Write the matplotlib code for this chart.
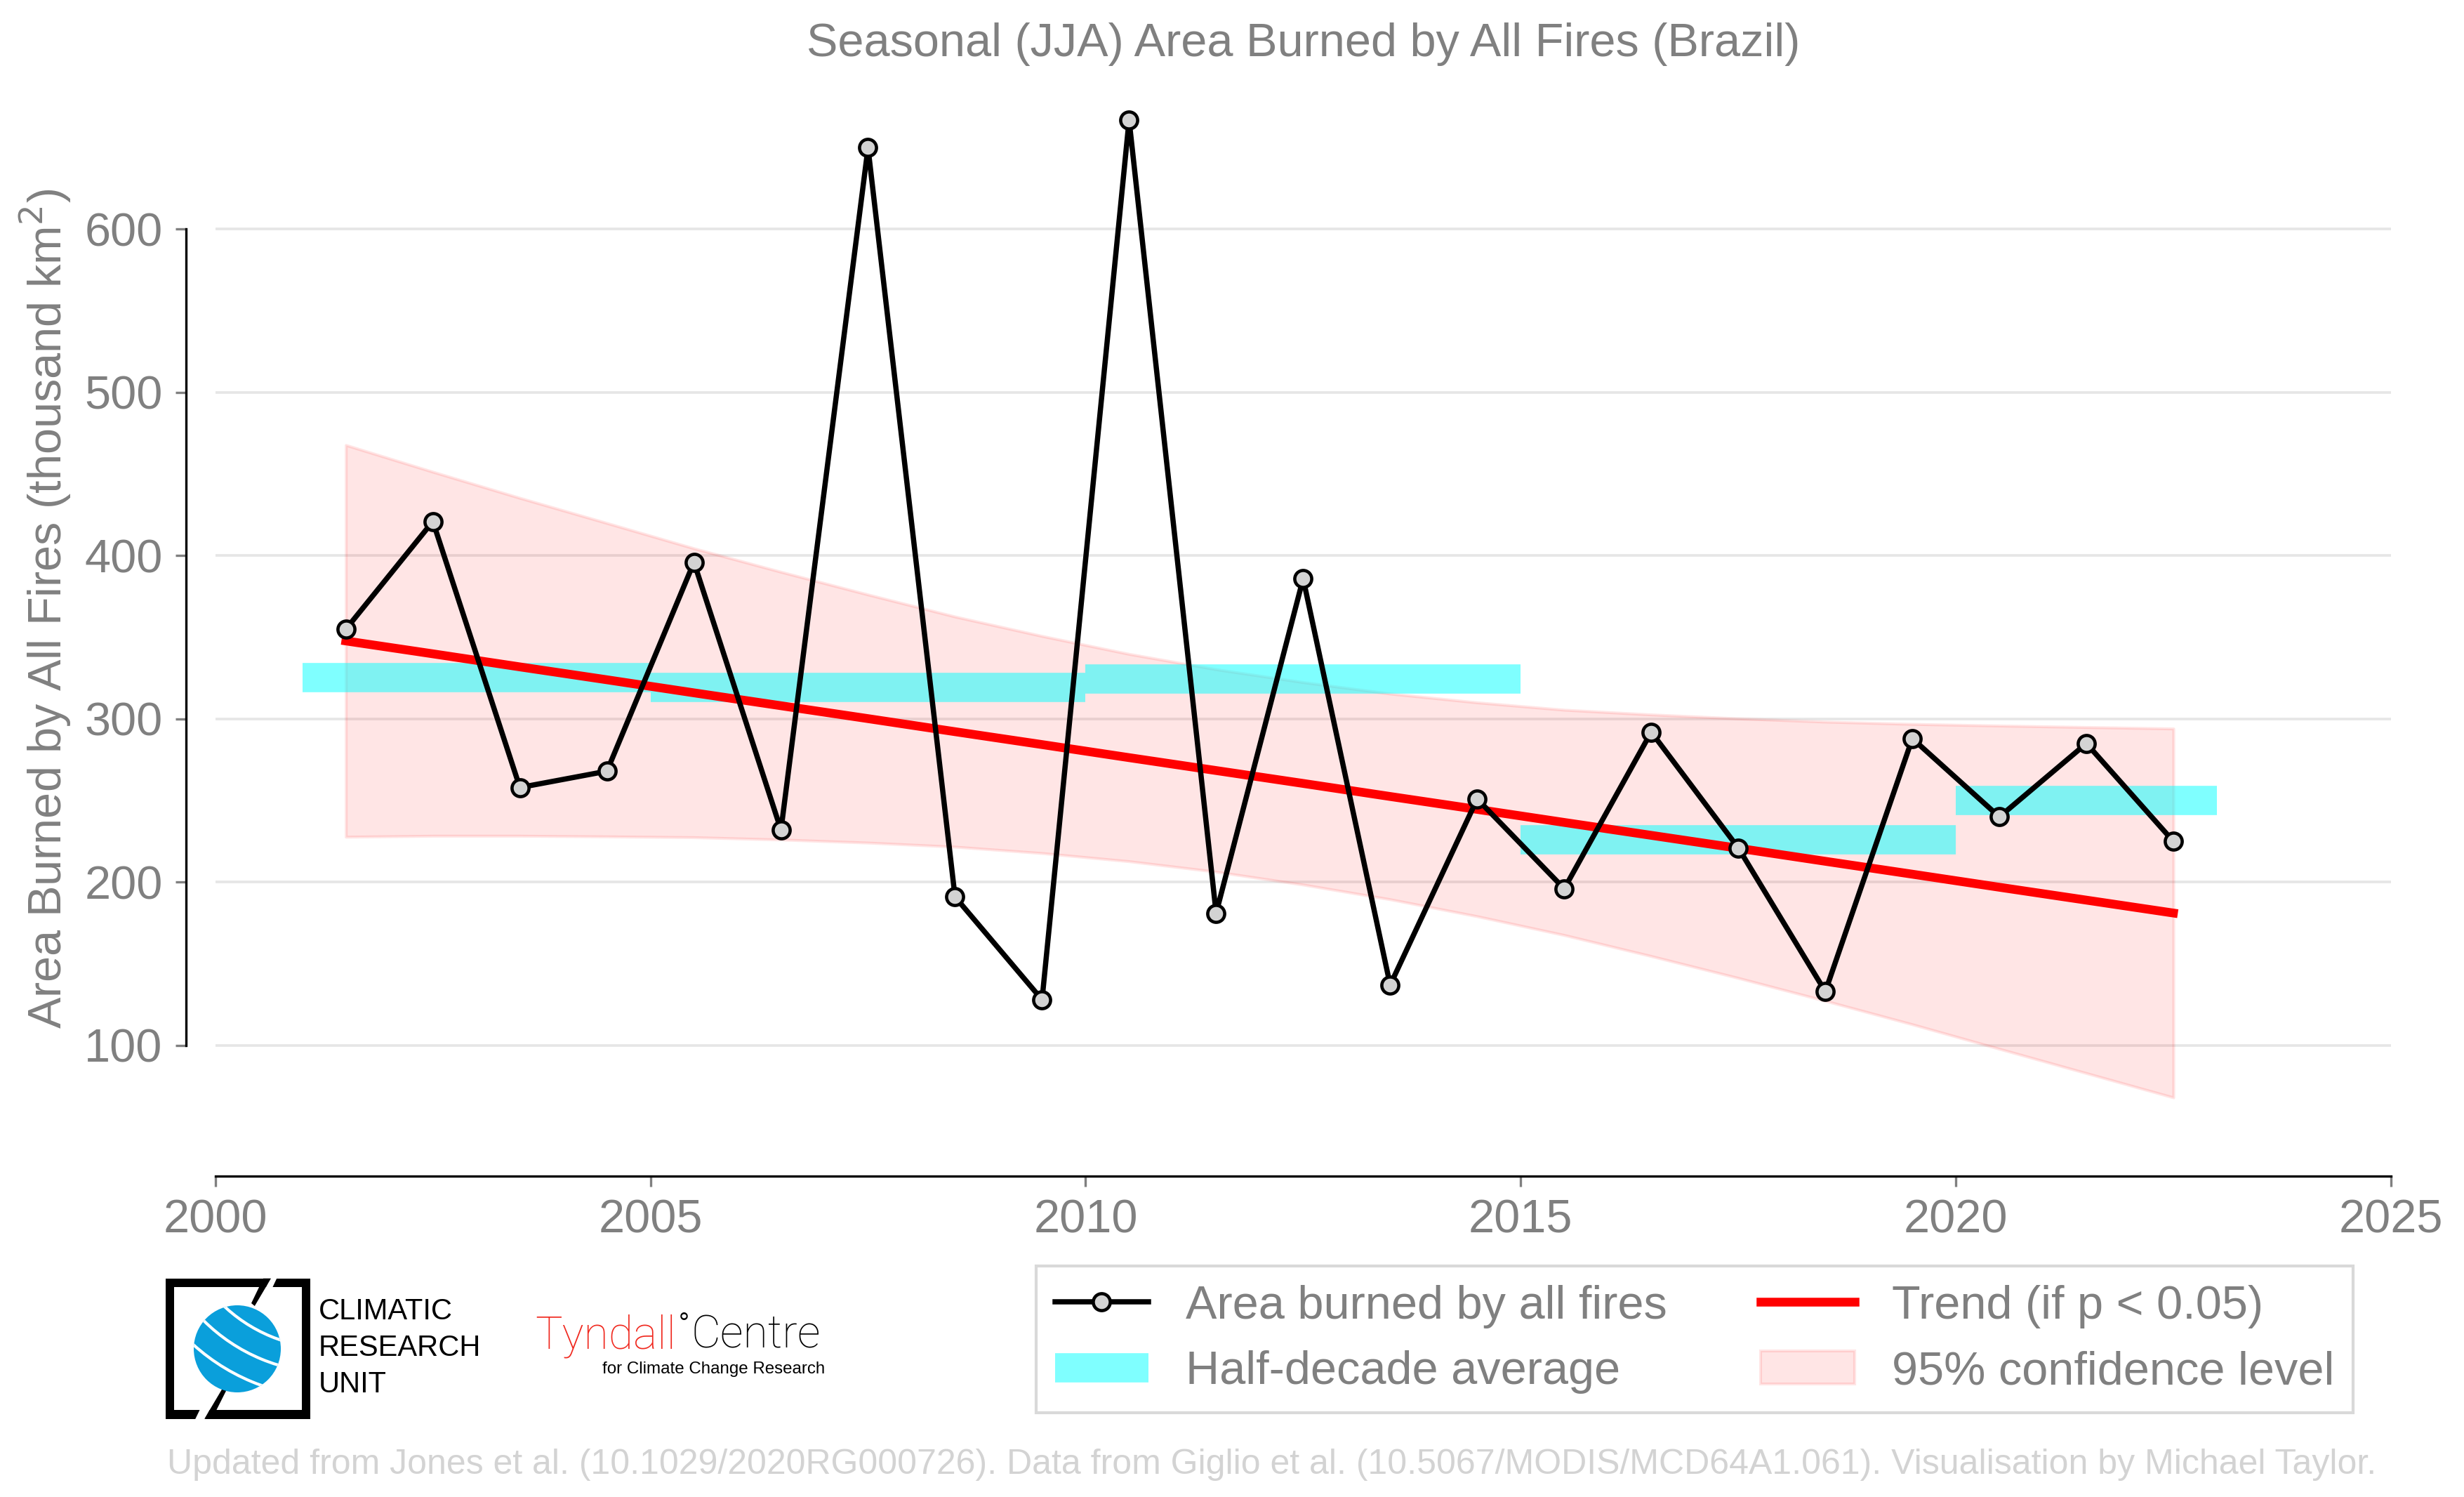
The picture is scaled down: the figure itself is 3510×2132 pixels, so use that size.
import numpy as np
import matplotlib.pyplot as plt
from matplotlib.lines import Line2D
from matplotlib.patches import Patch, Polygon, Circle, Rectangle, Arc

plt.rcParams['font.family'] = ['Liberation Sans', 'DejaVu Sans']

# %% Data
years = np.arange(2001, 2023)
area = [355, 421, 258, 268, 396, 232, 650, 191, 128, 667, 181,
        386, 137, 251, 196, 292, 221, 133, 288, 240, 285, 225]

# half-decade averages
half_start = [2001, 2005, 2010, 2015, 2020]
half_end = [2005, 2010, 2015, 2020, 2023]
half_avg = [325.5, 319.4, 324.4, 226.0, 250.0]

# trend line and 95% confidence band
trend = [347.8, 339.9, 331.9, 324.0, 316.0, 308.1, 300.2, 292.2, 284.3, 276.3, 268.4,
         260.5, 252.5, 244.6, 236.6, 228.7, 220.8, 212.8, 204.9, 196.9, 189.0, 181.1]
ci_upper = [467.8, 451.4, 435.4, 420.0, 404.5, 390.1, 376.2, 362.7, 350.8, 339.8, 330.4,
            322.5, 315.5, 310.1, 305.6, 302.7, 300.3, 298.3, 296.9, 295.9, 295.0, 294.1]
ci_lower = [227.8, 228.4, 228.4, 228.0, 227.5, 226.1, 224.2, 221.7, 217.8, 212.8, 206.4,
            198.5, 189.5, 179.1, 167.6, 154.7, 141.3, 127.3, 112.9, 97.9, 83.0, 68.1]

x = years + 0.5

# %% Figure
W, H = 3510, 2132
fig = plt.figure(figsize=(W / 300, H / 300), dpi=300)
ax = fig.add_axes([306.7 / W, 1 - 1633 / H, (3406 - 306.7) / W, (1633 - 101) / H])

ax.fill_between(x, ci_lower, ci_upper, color='red', alpha=0.1, zorder=1)
ax.hlines(half_avg, half_start, half_end, colors='cyan', alpha=0.5, lw=10,
          capstyle='butt', zorder=2)
ax.plot(x, trend, color='red', lw=3, zorder=3)
ax.plot(x, area, color='black', lw=1.8, marker='o', ms=5.8, mfc='lightgrey',
        mec='black', mew=1.1, zorder=4)

ax.set_xlim(2000, 2025)
ax.set_ylim(38, 697)
ax.set_xticks(range(2000, 2026, 5))
ax.set_yticks(range(100, 700, 100))
ax.tick_params(colors='grey', labelsize=16, pad=4.5)
ax.yaxis.grid(True, color='#e6e6e6', lw=0.9)
ax.set_axisbelow(True)

for s in ['top', 'right']:
    ax.spines[s].set_visible(False)
ax.spines['left'].set_position(('outward', 10))
ax.spines['bottom'].set_position(('outward', 10))
ax.spines['left'].set_bounds(100, 600)
ax.spines['bottom'].set_bounds(2000, 2025)

ax.set_ylabel('Area Burned by All Fires (thousand km$^2$)', fontsize=16,
              color='grey', labelpad=4)
ax.set_title('Seasonal (JJA) Area Burned by All Fires (Brazil)', fontsize=16,
             color='grey', pad=5)

# %% Legend
handles = [
    Line2D([], [], color='black', lw=1.8, marker='o', ms=5.8, mfc='lightgrey',
           mec='black', mew=1.1),
    Line2D([], [], color='cyan', alpha=0.5, lw=10, solid_capstyle='butt'),
    Line2D([], [], color='red', lw=3),
    Patch(facecolor=(1, 0, 0, 0.1), edgecolor=(1, 0, 0, 0.1)),
]
labels = ['Area burned by all fires', 'Half-decade average',
          'Trend (if p < 0.05)', '95% confidence level']
fig.legend(handles, labels, ncol=2, loc='upper left',
           bbox_to_anchor=(1476 / W, 1 - 1803 / H), borderaxespad=0,
           fontsize=16, labelcolor='grey', fancybox=False, framealpha=1,
           edgecolor='#d9d9d9', labelspacing=0.47)

# %% Footer
fig.text(238 / W, 1 - 2086 / H,
         'Updated from Jones et al. (10.1029/2020RG000726). Data from Giglio et al. '
         '(10.5067/MODIS/MCD64A1.061). Visualisation by Michael Taylor.',
         fontsize=12, color='lightgrey', va='center', ha='left')

# %% Logos (drawn in pixel coordinates)
lax = fig.add_axes([0, 0, 1, 1])
lax.set_xlim(0, W)
lax.set_ylim(H, 0)
lax.axis('off')

# CRU frame
for r in [(236.5, 1820.7, 205.5, 12.5), (236.5, 2008.2, 205.5, 12.5),
          (236.5, 1820.7, 11.5, 200), (430.5, 1820.7, 11.5, 200)]:
    lax.add_patch(Rectangle(r[:2], r[2], r[3], color='black', lw=0))
lax.add_patch(Polygon([(386, 1818), (395.5, 1818), (387.5, 1835), (378, 1835)],
                      color='white', lw=0))
lax.add_patch(Polygon([(277.2, 2023), (291.2, 2023), (299.5, 2006), (285.5, 2006)],
                      color='white', lw=0))
lax.add_patch(Polygon([(375, 1820.7), (386, 1820.7), (362.8, 1860), (358, 1856)],
                      color='black', lw=0))
lax.add_patch(Polygon([(291.2, 2020.7), (319.3, 1973.3), (324, 1977), (302, 2020.7)],
                      color='black', lw=0))
globe = Circle((338, 1921), 62, color='#0a9fdb', lw=0)
lax.add_patch(globe)
for rad in [150, 185, 220, 255, 290]:
    arc = Arc((470, 1700), 2 * rad, 2 * rad, color='white', lw=1.0)
    lax.add_patch(arc)
    arc.set_clip_path(globe)
for i, word in enumerate(['CLIMATIC', 'RESEARCH', 'UNIT']):
    lax.text(454, 1868 + 52 * i, word, fontsize=10, color='black',
             ha='left', va='center')

# Tyndall Centre
lax.text(963, 1920, 'Tyndall', fontsize=15.5, color='#f0281e', ha='right',
         va='baseline', family=['Roboto', 'Liberation Sans'], weight='light')
lax.text(974, 1886, '°', fontsize=9, color='black', ha='center', va='center')
lax.text(985, 1920, 'Centre', fontsize=15.5, color='black', ha='left',
         va='baseline', family=['Roboto', 'Liberation Sans'], weight='light')
lax.text(1175, 1956, 'for Climate Change Research', fontsize=5.8, color='black',
         ha='right', va='baseline')

fig.savefig('out.png', dpi=300)
